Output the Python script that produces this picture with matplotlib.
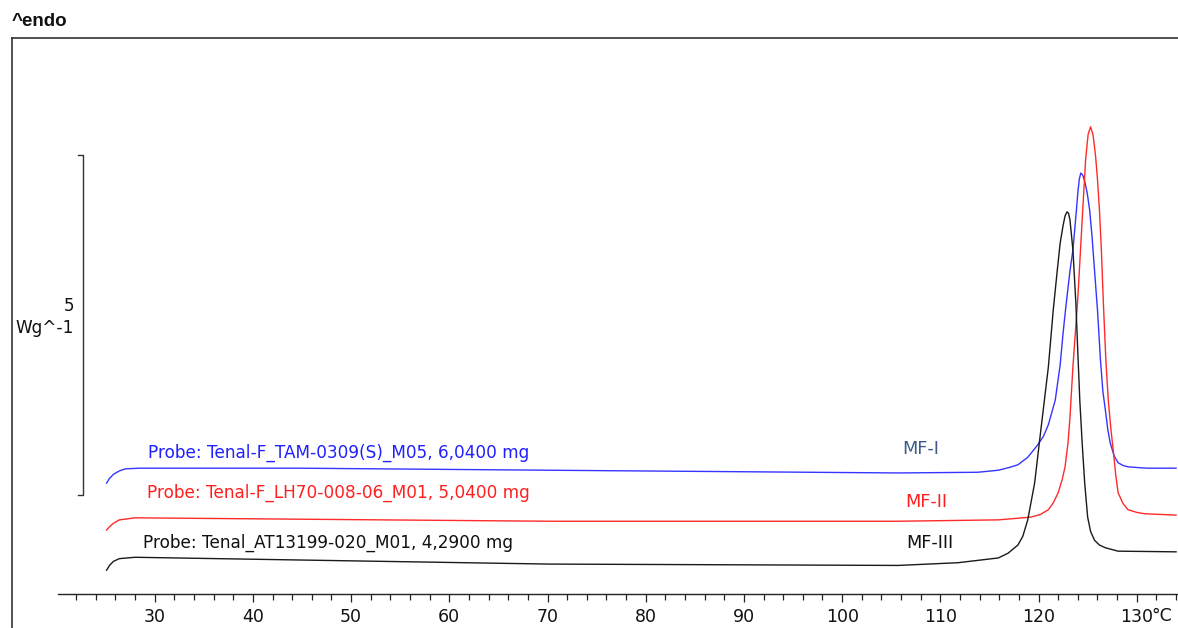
import matplotlib
matplotlib.use("Agg")
import matplotlib.pyplot as plt

# ---- data (temperature in °C, heat flow in W/g with display offsets) ----
blue_T = [25.1, 25.4, 25.8, 26.4, 27.0, 28.5, 44.7, 70.1, 105.7, 113.8, 115.9, 117.0, 117.9,
          118.9, 119.9, 120.5, 121.0, 121.7, 122.2, 122.5, 122.8, 123.2, 123.5, 123.8, 124.0,
          124.15, 124.3, 124.5, 124.7, 124.95, 125.2, 125.45, 125.7, 126.0, 126.3, 126.55,
          126.8, 127.05, 127.3, 127.7, 128.1, 128.6, 129.1, 130.0, 131.1, 134.0]
blue_v = [1.63, 1.70, 1.76, 1.81, 1.84, 1.85, 1.85, 1.82, 1.78, 1.79, 1.82, 1.86, 1.90,
          2.01, 2.19, 2.32, 2.49, 2.85, 3.37, 3.84, 4.25, 4.75, 5.06, 5.55, 5.90,
          6.10, 6.19, 6.16, 6.07, 5.90, 5.65, 5.25, 4.76, 4.18, 3.45, 2.98,
          2.71, 2.42, 2.22, 2.03, 1.93, 1.89, 1.87, 1.86, 1.85, 1.85]

red_T = [25.1, 25.4, 25.8, 26.4, 28.0, 44.7, 70.1, 105.7, 115.9, 119.2, 120.2, 121.0,
         121.5, 122.0, 122.4, 122.7, 123.0, 123.2, 123.5, 123.8, 124.0, 124.25, 124.5,
         124.8, 125.05, 125.3, 125.55, 125.8, 126.0, 126.2, 126.4, 126.6, 126.85, 127.1,
         127.35, 127.6, 127.85, 128.1, 128.6, 129.1, 130.0, 130.8, 134.0]
red_v = [0.94, 0.99, 1.04, 1.09, 1.12, 1.10, 1.07, 1.07, 1.09, 1.13, 1.17, 1.24,
         1.34, 1.49, 1.68, 1.87, 2.22, 2.60, 3.34, 3.95, 4.35, 5.00, 5.65,
         6.40, 6.76, 6.87, 6.75, 6.45, 6.10, 5.65, 5.05, 4.28, 3.45, 2.85,
         2.45, 2.12, 1.76, 1.49, 1.33, 1.24, 1.20, 1.18, 1.16]

black_T = [25.1, 25.4, 25.8, 26.4, 28.0, 44.7, 70.1, 105.7, 111.8, 115.9, 116.9, 117.9,
           118.4, 118.9, 119.6, 120.2, 121.0, 121.5, 121.9, 122.2, 122.5, 122.7, 122.9,
           123.05, 123.2, 123.5, 123.8, 124.0, 124.2, 124.45, 124.7, 125.0, 125.3, 125.7,
           126.2, 126.8, 128.1, 134.0]
black_v = [0.35, 0.42, 0.48, 0.52, 0.54, 0.50, 0.44, 0.42, 0.46, 0.53, 0.60, 0.72,
           0.85, 1.09, 1.63, 2.37, 3.34, 4.18, 4.75, 5.16, 5.42, 5.56, 5.62,
           5.60, 5.50, 5.06, 4.28, 3.55, 2.85, 2.20, 1.63, 1.13, 0.92, 0.79,
           0.72, 0.68, 0.63, 0.62]

sample_labels = ["Probe: Tenal-F_TAM-0309(S)_M05, 6,0400 mg",
                 "Probe: Tenal-F_LH70-008-06_M01, 5,0400 mg",
                 "Probe: Tenal_AT13199-020_M01, 4,2900 mg"]
form_labels = ["MF-I", "MF-II", "MF-III"]
major_ticks = [30, 40, 50, 60, 70, 80, 90, 100, 110, 120, 130]
minor_ticks = list(range(22, 135, 2))
scale_value = 5  # W/g scale bar

W, H = 1178, 628
fig = plt.figure(figsize=(W / 100, H / 100), dpi=100)
ax = fig.add_axes([12 / W, 0, 1 - 12 / W, (H - 38) / H])

ax.set_xlim(15.47, 134.2)
ax.set_ylim(-0.5, 8.176)

frame_col = "#333333"
ax.spines["right"].set_visible(False)
ax.spines["left"].set_color(frame_col)
ax.spines["top"].set_color(frame_col)
ax.spines["left"].set_linewidth(1.2)
ax.spines["top"].set_linewidth(1.2)
ax.spines["bottom"].set_position(("data", 0))
ax.spines["bottom"].set_bounds(20.2, 134.2)
ax.spines["bottom"].set_color("#222222")
ax.spines["bottom"].set_linewidth(1.0)
ax.yaxis.set_visible(False)

ax.xaxis.set_major_locator(plt.FixedLocator(major_ticks))
ax.xaxis.set_minor_locator(plt.FixedLocator(minor_ticks))
ax.set_xticklabels([str(t) for t in major_ticks])
ax.tick_params(axis="x", which="major", direction="out", length=6, width=0.9,
               color="#222222", labelsize=12.5, pad=4, labelcolor="#111111")
ax.tick_params(axis="x", which="minor", direction="out", length=4, width=0.9,
               color="#222222")
ax.text(131.5, -0.32, "°C", fontsize=12.5, ha="left", va="center", color="#111111",
        clip_on=False)

lw = 1.0
ax.plot(blue_T, blue_v, color="#3535ff", lw=lw)
ax.plot(red_T, red_v, color="#ff2a2a", lw=lw)
ax.plot(black_T, black_v, color="#1a1a1a", lw=lw)

fs = 12.2
ax.text(29.3, 2.07, sample_labels[0], color="#1f1fff", fontsize=fs, va="center", ha="left")
ax.text(29.2, 1.485, sample_labels[1], color="#ff1f1f", fontsize=fs, va="center", ha="left")
ax.text(28.8, 0.75, sample_labels[2], color="#111111", fontsize=fs, va="center", ha="left")

fs2 = 12.8
ax.text(106.1, 2.13, form_labels[0], color="#3d5a8a", fontsize=fs2, va="center", ha="left")
ax.text(106.4, 1.35, form_labels[1], color="#ff1f1f", fontsize=fs2, va="center", ha="left")
ax.text(106.5, 0.75, form_labels[2], color="#111111", fontsize=fs2, va="center", ha="left")

# scale bar
y0 = 1.456
y1 = y0 + scale_value
ax.plot([22.17, 22.68, 22.68, 22.17], [y1, y1, y0, y0], color="#333333", lw=1.0)
ax.text(21.8, 4.235, str(scale_value), fontsize=12.2, ha="right", va="center", color="#111111")
ax.text(21.8, 3.91, "Wg^-1", fontsize=12.2, ha="right", va="center", color="#111111")

fig.text(12 / W, 1 - 22 / H, "^endo", fontsize=13.5, fontweight="bold",
         fontfamily="Liberation Sans", ha="left", va="center", color="#111111")

fig.savefig("out.png", dpi=100)
